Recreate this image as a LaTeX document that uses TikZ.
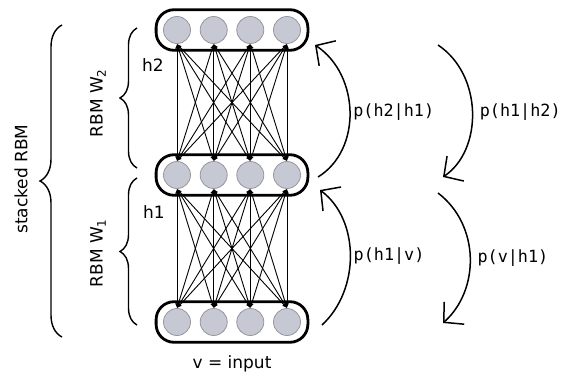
\documentclass[tikz,border=0pt]{standalone}
\usepackage{fontspec}
\setmainfont{DejaVu Sans}
\newfontfamily\labelfont{DejaVu Sans Mono}
\usetikzlibrary{arrows.meta,fit,decorations.pathreplacing}
\definecolor{unitfill}{RGB}{198,201,212}
\definecolor{unitdraw}{RGB}{150,150,156}
\tikzset{
    unit/.style={circle,draw=unitdraw,fill=unitfill,minimum size=13.5pt,inner sep=0pt},
    layerbox/.style={draw,line width=1.4pt,rounded corners=9pt,inner xsep=3.5pt,inner ysep=3.2pt},
    weight/.style={line width=0.45pt,{Latex[length=2.4pt,width=2pt]}-{Latex[length=2.4pt,width=2pt]}},
    sample/.style={line width=0.75pt,-{Straight Barb[length=7pt,width=15pt]}},
    cond/.style={font=\labelfont\fontsize{8.4}{10}\selectfont,anchor=west},
    bracetext/.style={font=\fontsize{8.5}{10}\selectfont,rotate=90}
}
\begin{document}
\begin{tikzpicture}[x=0.5pt,y=0.5pt,font=\fontsize{8.5}{10}\selectfont]
    \useasboundingbox (0,0) rectangle (564,376);
    %% layers
    \foreach \i/\x in {1/177,2/213.7,3/250.3,4/287} {
        \node[unit] (v\i) at (\x,54) {};
        \node[unit] (ha\i) at (\x,201) {};
        \node[unit] (hb\i) at (\x,346) {};
    }
    \node[layerbox,fit=(v1)(v4)] (vbox) {};
    \node[layerbox,fit=(ha1)(ha4)] (habox) {};
    \node[layerbox,fit=(hb1)(hb4)] (hbbox) {};
    %% weights
    \foreach \i in {1,...,4}
        \foreach \j in {1,...,4} {
            \draw[weight] (v\i.north) -- (ha\j.south);
            \draw[weight] (ha\i.north) -- (hb\j.south);
        }
    \node (input) at (232,12) {v = input};
    \node (hatext) at (154,164) {h1};
    \node (hbtext) at (153,311) {h2};
    %% braces
    \draw[line width=0.7pt,decorate,decoration={brace,amplitude=11pt}] (62,39) -- (62,351);
    \draw[line width=0.7pt,decorate,decoration={brace,amplitude=8.5pt}] (137,51) -- (137,198);
    \draw[line width=0.7pt,decorate,decoration={brace,amplitude=8.5pt}] (137,208) -- (137,348);
    \node[bracetext] (stacked) at (21,197) {stacked RBM};
    \node[bracetext] (rbmone) at (98,123) {RBM W\textsubscript{1}};
    \node[bracetext] (rbmtwo) at (98,273) {RBM W\textsubscript{2}};
    %% sampling
    \coordinate (upa) at (322,51);
    \coordinate (upb) at (320,186);
    \coordinate (upc) at (318,199);
    \coordinate (upd) at (315,331);
    \coordinate (dna) at (438,331);
    \coordinate (dnb) at (443,199);
    \coordinate (dnc) at (438,183);
    \coordinate (dnd) at (443,53);
    \draw[sample] (upa) .. controls (360,86) and (360,156) .. (upb) node[cond,pos=0.5,xshift=-2pt] {p(h1|v)};
    \draw[sample] (upc) .. controls (362,226) and (360,301) .. (upd) node[cond,pos=0.5,xshift=-2pt] {p(h2|h1)};
    \draw[sample] (dna) .. controls (483,301) and (483,226) .. (dnb) node[cond,pos=0.5,xshift=0pt] {p(h1|h2)};
    \draw[sample] (dnc) .. controls (480,151) and (480,86) .. (dnd) node[cond,pos=0.5,xshift=0pt] {p(v|h1)};
\end{tikzpicture}
\end{document}
